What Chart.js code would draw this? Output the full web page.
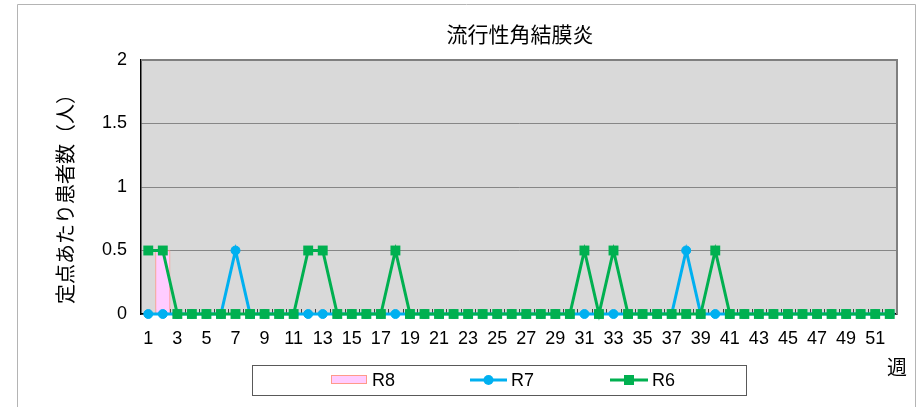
<!DOCTYPE html>
<html>
<head>
<meta charset="utf-8">
<title>流行性角結膜炎</title>
<script src="https://cdn.jsdelivr.net/npm/chart.js@4.4.1/dist/chart.umd.min.js"></script>
<style>
  html, body { margin: 0; padding: 0; background: #fff; }
  #wrap { width: 919px; height: 407px; position: relative; }
</style>
</head>
<body>
<div id="wrap"><canvas id="chart" width="919" height="407"></canvas></div>
<script>
"use strict";

// weeks on the x axis
const weeks = ["1","2","3","4","5","6","7","8","9","10","11","12","13","14","15","16","17","18","19","20",
  "21","22","23","24","25","26","27","28","29","30","31","32","33","34","35","36","37","38","39","40",
  "41","42","43","44","45","46","47","48","49","50","51","52"];

// R8 (bars, this season so far)
const r8 = [0, 0.5];

// R7 (blue line)
const r7 = [0, 0, 0, 0, 0, 0, 0.5, 0, 0, 0, 0, 0, 0, 0, 0, 0, 0, 0, 0, 0,
  0, 0, 0, 0, 0, 0, 0, 0, 0, 0, 0, 0, 0, 0, 0, 0, 0, 0.5, 0, 0,
  0, 0, 0, 0, 0, 0, 0, 0, 0, 0, 0, 0];

// R6 (green line)
const r6 = [0.5, 0.5, 0, 0, 0, 0, 0, 0, 0, 0, 0, 0.5, 0.5, 0, 0, 0, 0, 0.5, 0, 0,
  0, 0, 0, 0, 0, 0, 0, 0, 0, 0, 0.5, 0, 0.5, 0, 0, 0, 0, 0, 0, 0.5,
  0, 0, 0, 0, 0, 0, 0, 0, 0, 0, 0, 0];

const yTicks = [0, 0.5, 1, 1.5, 2];

const titleText = "流行性角結膜炎";
const yTitleText = "定点あたり患者数（人）";
const xTitleText = "週";

const latin = '"Liberation Sans", Arial, sans-serif';
const jp = '"Noto Sans CJK JP", sans-serif';

// frame, plot background, titles, small ticks, boxed legend
const decor = {
  id: "decor",
  beforeDraw: function (chart) {
    const ctx = chart.ctx;
    const a = chart.chartArea;
    ctx.save();
    // outer frame (no bottom edge)
    ctx.strokeStyle = "#b4b4b4";
    ctx.lineWidth = 1;
    ctx.beginPath();
    ctx.moveTo(17.5, 407);
    ctx.lineTo(17.5, 4.5);
    ctx.lineTo(915.5, 4.5);
    ctx.lineTo(915.5, 407);
    ctx.stroke();
    // plot area
    ctx.fillStyle = "#d9d9d9";
    ctx.fillRect(a.left, a.top, a.right - a.left, a.bottom - a.top);
    ctx.restore();
  },
  beforeDatasetsDraw: function (chart) {
    const ctx = chart.ctx;
    const a = chart.chartArea;
    const xs = chart.scales.x;
    ctx.save();
    // darker top / right edge of plot
    ctx.strokeStyle = "#7f7f7f";
    ctx.lineWidth = 2;
    ctx.beginPath();
    ctx.moveTo(a.left, a.top);
    ctx.lineTo(a.right, a.top);
    ctx.lineTo(a.right, a.bottom);
    ctx.stroke();
    // small inside ticks between weeks
    ctx.strokeStyle = "#404040";
    ctx.lineWidth = 1;
    const step = (a.right - a.left) / weeks.length;
    ctx.beginPath();
    for (var i = 1; i < weeks.length; i++) {
      var px = Math.round(xs.getPixelForValue(i) - step / 2) + 0.5;
      ctx.moveTo(px, a.bottom);
      ctx.lineTo(px, a.bottom - 5);
    }
    ctx.stroke();
    ctx.restore();
  },
  afterDraw: function (chart) {
    const ctx = chart.ctx;
    const a = chart.chartArea;
    ctx.save();
    ctx.fillStyle = "#000";
    ctx.textAlign = "center";
    ctx.textBaseline = "middle";
    // chart title
    ctx.font = "21px " + jp;
    ctx.fillText(titleText, 520, 34);
    // x axis title
    ctx.font = "20px " + jp;
    ctx.fillText(xTitleText, 897, 367);
    // y axis title
    ctx.save();
    ctx.translate(65, (a.top + a.bottom) / 2 + 7);
    ctx.rotate(-Math.PI / 2);
    ctx.font = "20px " + jp;
    ctx.fillText(yTitleText, 0, 0);
    ctx.restore();

    // legend box
    ctx.strokeStyle = "#595959";
    ctx.lineWidth = 1;
    ctx.strokeRect(252.5, 365.5, 494, 30);
    const ds = chart.data.datasets;
    const cy = 380;
    ctx.font = "18px " + latin;
    ctx.textAlign = "left";
    // R8 swatch
    ctx.fillStyle = ds[0].backgroundColor;
    ctx.fillRect(331, 375, 36, 9);
    ctx.strokeStyle = ds[0].borderColor;
    ctx.strokeRect(331.5, 375.5, 35, 8);
    ctx.fillStyle = "#000";
    ctx.fillText(ds[0].label, 372, cy + 1);
    // R7 swatch
    ctx.strokeStyle = ds[1].borderColor;
    ctx.lineWidth = 3;
    ctx.beginPath();
    ctx.moveTo(470, cy);
    ctx.lineTo(507, cy);
    ctx.stroke();
    ctx.fillStyle = ds[1].pointBackgroundColor;
    ctx.beginPath();
    ctx.arc(488.5, cy, 5, 0, Math.PI * 2);
    ctx.fill();
    ctx.fillStyle = "#000";
    ctx.fillText(ds[1].label, 511, cy + 1);
    // R6 swatch
    ctx.strokeStyle = ds[2].borderColor;
    ctx.beginPath();
    ctx.moveTo(610, cy);
    ctx.lineTo(648, cy);
    ctx.stroke();
    ctx.fillStyle = ds[2].pointBackgroundColor;
    ctx.fillRect(624, cy - 5, 10, 10);
    ctx.fillStyle = "#000";
    ctx.fillText(ds[2].label, 652, cy + 1);
    ctx.restore();
  }
};

const ctx = document.getElementById("chart");
new Chart(ctx, {
  type: "bar",
  data: {
    labels: weeks,
    datasets: [
      {
        type: "bar",
        label: "R8",
        data: r8,
        backgroundColor: "#ffccff",
        borderColor: "#ff9a8a",
        borderWidth: 1,
        barPercentage: 1,
        categoryPercentage: 1,
        order: 3
      },
      {
        type: "line",
        label: "R7",
        data: r7,
        borderColor: "#00b0f0",
        backgroundColor: "#00b0f0",
        pointBackgroundColor: "#00b0f0",
        pointBorderColor: "#00b0f0",
        borderWidth: 3,
        pointRadius: 4.5,
        pointBorderWidth: 1,
        pointStyle: "circle",
        tension: 0,
        clip: false,
        order: 2
      },
      {
        type: "line",
        label: "R6",
        data: r6,
        borderColor: "#00b050",
        backgroundColor: "#00b050",
        pointBackgroundColor: "#00b050",
        pointBorderColor: "#00b050",
        borderWidth: 3,
        pointRadius: 7,
        pointBorderWidth: 0,
        pointStyle: "rect",
        tension: 0,
        clip: false,
        order: 1
      }
    ]
  },
  options: {
    responsive: false,
    animation: false,
    devicePixelRatio: 1,
    layout: { padding: { top: 60, right: 22, bottom: 0, left: 0 } },
    plugins: {
      legend: { display: false },
      title: { display: false },
      tooltip: { enabled: false }
    },
    scales: {
      x: {
        type: "category",
        offset: true,
        grid: { display: false, drawTicks: false },
        border: { display: true, color: "#000", width: 1.5 },
        ticks: {
          autoSkip: false,
          maxRotation: 0,
          minRotation: 0,
          padding: 14,
          color: "#000",
          font: { family: latin, size: 18 },
          callback: function (v, i) { return i % 2 === 0 ? weeks[i] : ""; }
        },
        afterFit: function (s) { s.height = 93; }
      },
      y: {
        min: 0,
        max: 2,
        grid: { color: "#868686", lineWidth: 1, drawTicks: false },
        border: { display: true, color: "#000", width: 1.5 },
        ticks: {
          stepSize: 0.5,
          padding: 14,
          color: "#000",
          font: { family: latin, size: 18 },
          callback: function (v) { return yTicks.indexOf(v) >= 0 ? String(v) : ""; }
        },
        afterFit: function (s) { s.width = 141; }
      }
    }
  },
  plugins: [decor]
});
</script>
</body>
</html>
